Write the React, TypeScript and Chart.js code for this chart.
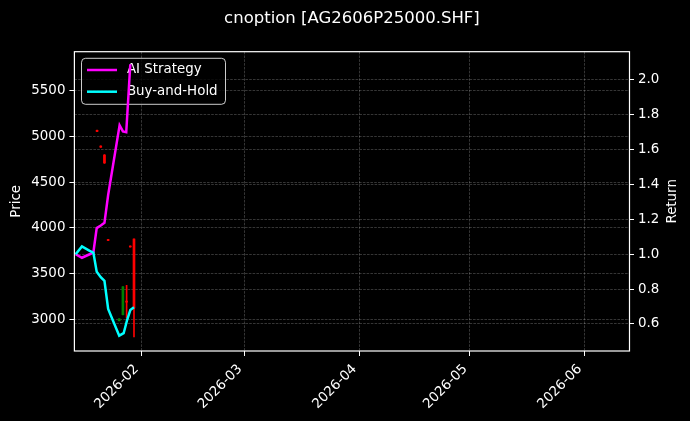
import React, { useEffect, useRef } from 'react';
import { Chart, registerables, type ChartConfiguration, type Plugin } from 'chart.js';

Chart.register(...registerables);

// x positions are days since 2026-01-01 (so 31 = 2026-02-01)
const xTickDays = [31, 59, 90, 120, 151];
const xTickLabels = ['2026-02', '2026-03', '2026-04', '2026-05', '2026-06'];
const priceTicks = [3000, 3500, 4000, 4500, 5000, 5500];
const returnTicks = [0.6, 0.8, 1.0, 1.2, 1.4, 1.6, 1.8, 2.0];

// AI Strategy cumulative return
const aiDays = [13.2, 14.9, 17.0, 18.0, 18.9, 20.0, 21.0, 22.0, 25.1, 26.0, 26.9, 28.0];
const aiReturn = [1.0, 0.98, 1.0, 1.01, 1.15, 1.165, 1.18, 1.34, 1.74, 1.705, 1.7, 2.09];

// Buy-and-Hold cumulative return
const bhDays = [13.2, 14.9, 17.0, 18.0, 18.9, 20.0, 21.0, 22.0, 25.0, 26.2, 27.1, 28.0, 29.0];
const bhReturn = [1.0, 1.045, 1.02, 1.01, 0.9, 0.868, 0.848, 0.686, 0.533, 0.547, 0.62, 0.68, 0.696];

// option price candles
const candleDays = [19, 20, 21, 22, 25, 26, 27, 28, 29];
const candleOpen = [5065, 4895, 4797, 3872, 2985, 3050, 3200, 3800, 3878];
const candleHigh = [5068, 4898, 4800, 3874, 3005, 3357, 3370, 3802, 3880];
const candleLow = [5052, 4880, 4705, 3860, 2983, 3047, 3015, 3788, 2807];
const candleClose = [5055, 4882, 4710, 3862, 3005, 3355, 3188, 3790, 3124];

const FONT = 'DejaVu Sans';
const UP = '#008000';
const DOWN = '#ff0000';
const candleColor = candleOpen.map((o, i) => (candleClose[i] >= o ? UP : DOWN));

const legendItems: [string, string][] = [
  ['AI Strategy', '#ff00ff'],
  ['Buy-and-Hold', '#00ffff'],
];

export default function App() {
  const canvasRef = useRef<HTMLCanvasElement>(null);
  const chartRef = useRef<Chart | null>(null);

  useEffect(() => {
    document.body.style.background = '#000';
    if (!canvasRef.current) return;
    chartRef.current?.destroy();

    // legend sits under the return lines but over the candles, like the twinx original
    const legendPlugin: Plugin = {
      id: 'insideLegend',
      beforeDatasetDraw(chart, args) {
        if (args.index !== 0) return;
        const { ctx, chartArea: a } = chart;
        const x = a.left + 7.1, y = a.top + 6.6, w = 144, h = 46, r = 4;
        ctx.save();
        ctx.beginPath();
        ctx.roundRect(x, y, w, h, r);
        ctx.fillStyle = 'rgba(0,0,0,0.8)';
        ctx.fill();
        ctx.strokeStyle = 'rgba(255,255,255,0.8)';
        ctx.lineWidth = 1;
        ctx.stroke();
        ctx.font = `13.4px "${FONT}"`;
        ctx.textBaseline = 'middle';
        legendItems.forEach(([label, color], i) => {
          const ly = y + 11.7 + i * 21.7;
          ctx.strokeStyle = color;
          ctx.lineWidth = 2.5;
          ctx.beginPath();
          ctx.moveTo(x + 5.5, ly);
          ctx.lineTo(x + 35.5, ly);
          ctx.stroke();
          ctx.fillStyle = '#fff';
          ctx.fillText(label, x + 45.4, ly);
        });
        ctx.restore();
      },
    };

    const framePlugin: Plugin = {
      id: 'frameAndTitles',
      afterDraw(chart) {
        const { ctx, chartArea: a, scales } = chart;
        ctx.save();
        ctx.strokeStyle = '#fff';
        ctx.lineWidth = 1.2;
        ctx.strokeRect(a.left, a.top, a.right - a.left, a.bottom - a.top);
        ctx.fillStyle = '#fff';
        ctx.textAlign = 'center';
        ctx.textBaseline = 'middle';
        ctx.font = `16.5px "${FONT}"`;
        ctx.fillText('cnoption [AG2606P25000.SHF]', (a.left + a.right) / 2, 18.3);

        // rotated date labels, right end of the rotated box at the tick
        const size = 13.4;
        ctx.font = `${size}px "${FONT}"`;
        ctx.textAlign = 'right';
        ctx.textBaseline = 'bottom';
        const top = a.bottom + 9.6;
        xTickDays.forEach((d, i) => {
          const px = scales.x.getPixelForValue(d);
          ctx.save();
          ctx.translate(px, top + 0.707 * 1.17 * size);
          ctx.rotate(-Math.PI / 4);
          ctx.fillText(xTickLabels[i], 0, 0);
          ctx.restore();
        });

        ctx.textAlign = 'center';
        ctx.textBaseline = 'middle';
        const midY = (a.top + a.bottom) / 2;
        ctx.translate(17, midY);
        ctx.rotate(-Math.PI / 2);
        ctx.fillText('Price', 0, 0);
        ctx.rotate(Math.PI / 2);
        ctx.translate(672.7 - 17, 0);
        ctx.rotate(-Math.PI / 2);
        ctx.fillText('Return', 0, 0);
        ctx.restore();
      },
    };

    const gridLine = {
      color: 'rgba(255,255,255,0.3)',
      lineWidth: 0.7,
      tickColor: '#fff',
      tickWidth: 1,
      offset: false,
    };
    const tickFont = { size: 13.4, family: FONT };

    const config: ChartConfiguration = {
      type: 'bar',
      data: {
        datasets: [
          {
            type: 'line',
            label: 'AI Strategy',
            data: aiDays.map((d, i) => ({ x: d, y: aiReturn[i] })),
            yAxisID: 'y1',
            borderColor: '#ff00ff',
            borderWidth: 2.5,
            pointRadius: 0,
            tension: 0,
            order: 2,
          },
          {
            type: 'line',
            label: 'Buy-and-Hold',
            data: bhDays.map((d, i) => ({ x: d, y: bhReturn[i] })),
            yAxisID: 'y1',
            borderColor: '#00ffff',
            borderWidth: 2.5,
            pointRadius: 0,
            tension: 0,
            order: 1,
          },
          {
            type: 'bar',
            label: 'wick',
            data: candleDays.map((d, i) => ({ x: d, y: [candleLow[i], candleHigh[i]] })),
            yAxisID: 'y',
            backgroundColor: candleColor,
            borderWidth: 0,
            barThickness: 1,
            grouped: false,
            minBarLength: 1,
            order: 10,
          },
          {
            type: 'bar',
            label: 'body',
            data: candleDays.map((d, i) => ({ x: d, y: [candleOpen[i], candleClose[i]] })),
            yAxisID: 'y',
            backgroundColor: candleColor,
            borderWidth: 0,
            barThickness: 2,
            grouped: false,
            minBarLength: 1,
            order: 9,
          },
        ] as any,
      },
      options: {
        responsive: true,
        maintainAspectRatio: false,
        animation: false,
        layout: { padding: { top: 51.7, left: 0, right: 0, bottom: 0 } },
        plugins: {
          legend: { display: false },
          title: { display: false },
          tooltip: { enabled: false },
        },
        scales: {
          x: {
            type: 'linear',
            min: 12.86,
            max: 163.2,
            offset: false,
            grid: { ...gridLine, tickLength: 5 },
            border: { display: false, dash: [2.6, 1.2] },
            ticks: { display: false },
            afterBuildTicks: s => { s.ticks = xTickDays.map(value => ({ value })); },
            afterFit: s => { s.height = 70; },
          },
          y: {
            type: 'linear',
            position: 'left',
            min: 2653,
            max: 5926.5,
            grid: { ...gridLine, tickLength: 5 },
            border: { display: false, dash: [2.6, 1.2] },
            ticks: { color: '#fff', font: tickFont, padding: 4, callback: v => String(v) },
            afterBuildTicks: s => { s.ticks = priceTicks.map(value => ({ value })); },
            afterFit: s => { s.width = 74.4; },
          },
          y1: {
            type: 'linear',
            position: 'right',
            min: 0.445,
            max: 2.162,
            grid: { ...gridLine, tickLength: 4.5 },
            border: { display: false, dash: [2.6, 1.2] },
            ticks: { color: '#fff', font: tickFont, padding: 4, callback: v => Number(v).toFixed(1) },
            afterBuildTicks: s => { s.ticks = returnTicks.map(value => ({ value })); },
            afterFit: s => { s.width = 60.5; },
          },
        },
      },
      plugins: [legendPlugin, framePlugin],
    };

    chartRef.current = new Chart(canvasRef.current, config);
    return () => { chartRef.current?.destroy(); chartRef.current = null; };
  }, []);

  return (
    <div style={{ position: 'fixed', left: 0, top: 0, width: 690, height: 421, background: '#000' }}>
      <canvas ref={canvasRef} role="img" aria-label="Option price candles with AI strategy and buy-and-hold returns" />
    </div>
  );
}
